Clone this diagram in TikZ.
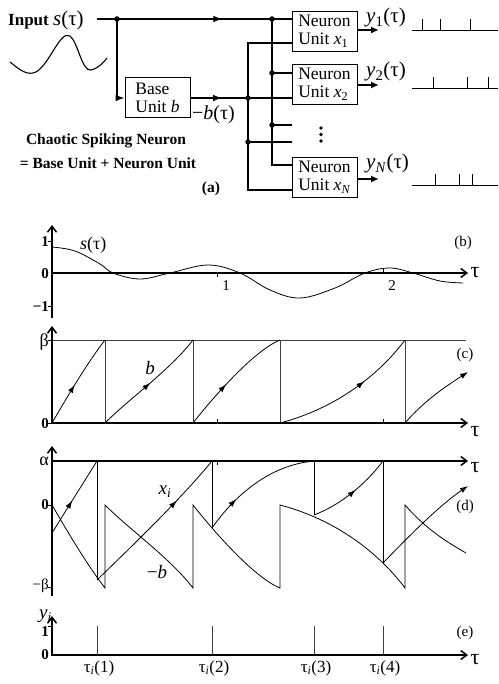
\documentclass[tikz,border=0pt]{standalone}
\usepackage{fontspec}
\setmainfont{Liberation Serif}
\usetikzlibrary{arrows.meta,decorations.markings}
\newcommand{\fs}[1]{\fontsize{#1}{#1}\selectfont}
\tikzset{
  x=1pt,y=-1pt,
  wire/.style={line width=1.1pt},
  unitbox/.style={draw,line width=0.9pt,minimum width=65pt,minimum height=40pt,inner sep=1pt,align=left,font=\fontsize{17.5}{18}\selectfont},
  jdot/.style={circle,fill,inner sep=0pt,minimum size=5.5pt},
  midtip/.style={postaction={decorate},decoration={markings,mark=at position #1 with {\arrow{Latex[length=9pt,width=6.5pt]}}}},
  axis/.style={line width=1.5pt},
  axarrow/.style={line width=1.5pt,-{Straight Barb[length=6pt,width=9pt]}},
  thin/.style={line width=0.6pt,draw=black!75},
  curve/.style={line width=0.8pt},
  cmid/.style={curve,postaction={decorate},decoration={markings,mark=at position #1 with {\arrow{Latex[length=8pt,width=5.5pt]}}}},
  cend/.style={curve,-{Latex[length=8pt,width=5.5pt]}},
  lbl/.style={font=\fs{15},inner sep=0pt},
  spike/.style={line width=1pt},
}
\begin{document}
\begin{tikzpicture}
\useasboundingbox (0,0) rectangle (498,684);
% ================= panel (a) =================
\node[anchor=base west,inner sep=0pt,font=\fs{17}] (inp) at (8,26) {\textbf{Input} \fs{21}\textit{s}(τ)};
\draw[line width=1.1pt] (10,62) .. controls (20,70) and (27,76) .. (36,72)
  .. controls (50,64) and (60,30) .. (70,36)
  .. controls (78,42) and (82,72) .. (91,70)
  .. controls (99,68) and (104,62) .. (107,58);
\node[unitbox] (base) at (157.5,97.5) {Base\\Unit \textit{b}};
\node[unitbox] (n1) at (324.5,31) {Neuron\\Unit \textit{x}\textsubscript{1}};
\node[unitbox] (n2) at (324.5,84.5) {Neuron\\Unit \textit{x}\textsubscript{2}};
\node[unitbox] (nN) at (324.5,177) {Neuron\\Unit \textit{x}\textsubscript{\textit{N}}};
\coordinate (s0) at (97,19);
\node[jdot] (j1) at (117,19) {};
\node[jdot] (sa) at (272,19) {};
\node[jdot] (sb) at (272,73) {};
\node[jdot] (sc) at (272,125) {};
\coordinate (sd) at (272,165);
\node[jdot] (ba) at (248,98) {};
\node[jdot] (bb) at (248,142) {};
\coordinate (btop) at (248,43);
\coordinate (bbot) at (248,190);
\coordinate (e1) at (292,125);
\coordinate (e2) at (292,142);
\coordinate (cor) at (117,98);
\draw[wire] (s0) -- (j1.center);
\draw[wire,midtip=0.68] (j1.center) -- (sa.center);
\draw[wire] (sa.center) -- (n1.west|-sa);
\draw[wire] (sa.center) -- (sd) -- (nN.west|-sd);
\draw[wire] (sb.center) -- (n2.west|-sb);
\draw[wire] (sc.center) -- (e1);
\draw[wire,-{Latex[length=9pt,width=6.5pt]}] (j1.center) -- (cor) -- (base.west|-cor);
\draw[wire,midtip=0.55] (base.east|-ba) -- (ba.center);
\draw[wire] (ba.center) -- (n2.west|-ba);
\draw[wire] (bb.center) -- (e2);
\draw[wire] (n1.west|-btop) -- (btop) -- (bbot) -- (nN.west|-bbot);
\node[anchor=base west,inner sep=0pt,font=\fs{20}] (mb) at (192,120) {−\textit{b}(τ)};
\foreach \y/\c in {128/1,134.5/2,141/3} \fill (321,\y) circle (1.8pt);
% outputs
\draw[line width=1.8pt,-{Latex[length=8pt,width=7pt]}] (n1.east|-0,30) coordinate (o1) -- (379,30);
\draw[line width=1.8pt,-{Latex[length=8pt,width=7pt]}] (n2.east|-0,85) coordinate (o2) -- (379,85);
\draw[line width=1.8pt,-{Latex[length=8pt,width=7pt]}] (nN.east|-0,179) coordinate (o3) -- (379,179);
\node[anchor=base west,inner sep=0pt,font=\fs{21}] (y1) at (366,23) {\textit{y}\textsubscript{1}(τ)};
\node[anchor=base west,inner sep=0pt,font=\fs{21}] (y2) at (366,77) {\textit{y}\textsubscript{2}(τ)};
\node[anchor=base west,inner sep=0pt,font=\fs{21}] (yN) at (366,169) {\textit{y}\textsubscript{\textit{N}}(τ)};
\draw[spike] (412,31) -- (498,31);
\foreach \x in {422,440,470} \draw[spike] (\x,31) -- (\x,19);
\draw[spike] (412,89) -- (498,89);
\foreach \x in {433,467,488} \draw[spike] (\x,89) -- (\x,77);
\draw[spike] (412,186) -- (498,186);
\foreach \x in {435,459,472} \draw[spike] (\x,186) -- (\x,174);
\node[anchor=base,inner sep=0pt,font=\bfseries\fs{15.5}] (t1) at (106,145) {Chaotic Spiking Neuron};
\node[anchor=base,inner sep=0pt,font=\bfseries\fs{15.5}] (t2) at (108,169) {= Base Unit + Neuron Unit};
\node[anchor=base,inner sep=0pt,font=\bfseries\fs{15.5}] (ta) at (211,193) {(a)};
% ================= panel (b) =================
\draw[axarrow] (52,318) -- (52,225);
\draw[axarrow] (52,273) -- (468,273);
\draw[line width=1pt] (48,242) -- (52,242) (48,306) -- (52,306);
\draw[line width=0.8pt] (217,273) -- (217,277) (383,273) -- (383,269);
\node[lbl,anchor=east] (b1) at (49,242) {\bfseries 1};
\node[lbl,anchor=east] (b0) at (49,274) {\bfseries 0};
\node[lbl,anchor=east] (bm) at (49,307) {\bfseries −1};
\node[lbl] (bx1) at (226,286) {1};
\node[lbl] (bx2) at (392,286) {2};
\node[lbl,font=\fs{22}] (tb) at (475,273) {τ};
\node[lbl] (pb) at (463,243) {(b)};
\node[lbl,font=\fs{18},anchor=west] (sl) at (80,245) {\textit{s}(τ)};
\draw[curve] plot[smooth,tension=0.6] coordinates {(52,247) (75,251) (100,264) (113,273) (140,279) (170,273) (208,265) (240,273) (270,290) (300,298) (335,288) (365,273) (390,268) (413,273) (440,281) (463,283)};
% ================= panel (c) =================
\draw[thin] (52,340) -- (466,340);
\foreach \x in {105,193,280,405} \draw[thin] (\x,340) -- (\x,423);
\draw[axarrow] (52,424) -- (52,326);
\draw[axarrow] (52,423) -- (468,423);
\draw[line width=1pt] (48,340) -- (52,340) (48,423) -- (52,423);
\draw[line width=0.8pt] (217,423) -- (217,419) (383,423) -- (383,419);
\node[lbl,anchor=east,font=\fs{18}] (cb) at (49,342) {β};
\node[lbl,anchor=east] (c0) at (49,424) {\bfseries 0};
\node[lbl,font=\fs{22}] (tc) at (475,432) {τ};
\node[lbl] (pc) at (465,355) {(c)};
\node[lbl,font=\fs{19}] (bl) at (150,368) {\textit{b}};
\draw[cmid=0.45] (52,423) .. controls (70,392) and (88,362) .. (105,340);
\draw[cmid=0.5] (105,423) .. controls (130,398) and (170,370) .. (193,340);
\draw[cmid=0.42] (193,423) .. controls (215,395) and (255,350) .. (280,340);
\draw[cmid=0.62] (280,423) .. controls (330,410) and (375,380) .. (405,340);
\draw[cend] (405,423) .. controls (425,400) and (445,387) .. (468,372);
% ================= panel (d) =================
\draw[axarrow] (52,596) -- (52,446);
\draw[axarrow] (52,461) -- (468,461);
\draw[line width=1pt] (48,505) -- (52,505) (48,587) -- (52,587);
\draw[line width=0.8pt] (217,461) -- (217,465);
\node[lbl,anchor=east,font=\fs{18}] (da) at (49,461) {α};
\node[lbl,anchor=east] (d0) at (49,505) {\bfseries 0};
\node[lbl,anchor=east] (dm) at (49,586) {−β};
\node[lbl,font=\fs{22}] (td) at (475,468) {τ};
\node[lbl] (pd) at (465,507) {(d)};
\node[lbl,font=\fs{19}] (xl) at (165,492) {\textit{x}\textsubscript{\textit{i}}};
\node[lbl,font=\fs{19}] (mbl) at (157,572) {−\textit{b}};
% -b
\draw[curve] (52,505) .. controls (70,536) and (88,566) .. (105,588) -- (105,505)
  .. controls (130,530) and (170,558) .. (193,588) -- (193,505)
  .. controls (215,533) and (255,578) .. (280,588) -- (280,505)
  .. controls (330,518) and (375,548) .. (405,588) -- (405,505)
  .. controls (425,528) and (445,541) .. (466,553);
% x_i
\draw[cmid=0.45] (52,533) .. controls (65,512) and (82,485) .. (97,461);
\draw[curve] (97,461) -- (97,580);
\draw[cmid=0.68] (97,580) .. controls (130,548) and (180,500) .. (212,461);
\draw[curve] (212,461) -- (212,528);
\draw[cmid=0.3] (212,528) .. controls (235,495) and (270,465) .. (314,461);
\draw[curve] (314,461) -- (314,515);
\draw[cmid=0.55] (314,515) .. controls (340,505) and (365,485) .. (383,461);
\draw[curve] (383,461) -- (383,563);
\draw[cend] (383,563) .. controls (410,535) and (440,505) .. (468,486);
% ================= panel (e) =================
\draw[axarrow] (52,656) -- (52,616);
\draw[axarrow] (52,655) -- (468,655);
\draw[line width=1pt] (48,626) -- (52,626);
\node[lbl,anchor=east] (e1l) at (49,632) {\bfseries 1};
\node[lbl,anchor=east] (e0l) at (49,655) {\bfseries 0};
\node[lbl,font=\fs{19},anchor=east] (yl) at (52,616) {\textit{y}\textsubscript{\textit{i}}};
\node[lbl,font=\fs{22}] (te) at (475,660) {τ};
\node[lbl] (pe) at (465,633) {(e)};
\foreach \x/\k in {97/1,212/2,314/3,383/4} {
  \draw[thin] (\x,626) -- (\x,655);
  \node[lbl,font=\fs{17}] (ti\k) at (\x+2,668) {τ\textsubscript{\textit{i}}(\k)};
}
\end{tikzpicture}
\end{document}
